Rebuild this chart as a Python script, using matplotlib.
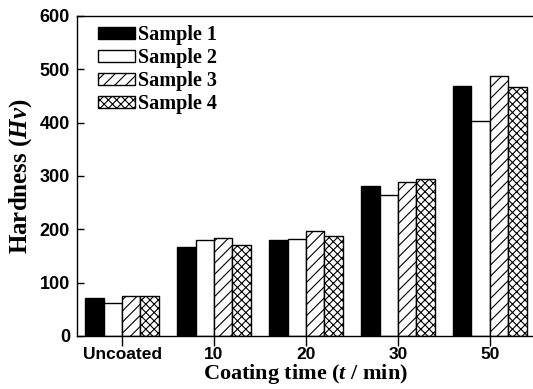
import matplotlib
matplotlib.use("Agg")
import matplotlib.pyplot as plt
import numpy as np

categories = ["Uncoated", "10", "20", "30", "50"]
series_names = ["Sample 1", "Sample 2", "Sample 3", "Sample 4"]
sample1 = [72, 166, 180, 282, 469]
sample2 = [62, 180, 182, 265, 404]
sample3 = [75, 183, 197, 289, 487]
sample4 = [75, 170, 187, 295, 466]
y_ticks = [0, 100, 200, 300, 400, 500, 600]

plt.rcParams['mathtext.fontset'] = 'custom'
plt.rcParams['mathtext.rm'] = 'Liberation Serif:bold'
plt.rcParams['mathtext.it'] = 'Liberation Serif:italic:bold'
plt.rcParams['mathtext.bf'] = 'Liberation Serif:bold'
plt.rcParams['hatch.linewidth'] = 0.8

fig = plt.figure(figsize=(5.33, 3.89), dpi=100)
ax = fig.add_axes([77/533, 1-336/389, (534-77)/533, (336-16)/389])

x = np.arange(len(categories))
w = 0.2
styles = [dict(facecolor='black', hatch=None),
          dict(facecolor='white', hatch=None),
          dict(facecolor='white', hatch='///'),
          dict(facecolor='white', hatch='xxxx')]
data = [sample1, sample2, sample3, sample4]
for i, (vals, st, name) in enumerate(zip(data, styles, series_names)):
    ax.bar(x + (i - 1.5) * w, vals, width=w, facecolor=st['facecolor'],
           hatch=st['hatch'], edgecolor='black', linewidth=1.0, label=name)

ax.set_xlim(-0.49, 4.48)
ax.set_ylim(0, 600)
ax.set_xticks(x)
ax.set_xticklabels(categories)
ax.set_yticks(y_ticks)
ax.tick_params(axis='x', direction='out', length=7, width=1, labelsize=12.5, pad=1)
ax.tick_params(axis='y', direction='in', length=5, width=1, labelsize=13, pad=5)
for lab in ax.get_xticklabels() + ax.get_yticklabels():
    lab.set_fontweight('bold')
    lab.set_family('Liberation Sans')
for s in ax.spines.values():
    s.set_linewidth(1.0)
ax.spines['right'].set_visible(False)

ax.set_xlabel("Coating time ($t$ / min)", fontsize=16, fontweight='bold',
              family='Liberation Serif', labelpad=0)
ax.set_ylabel("Hardness ($Hv$)", fontsize=18, fontweight='bold',
              family='Liberation Serif', labelpad=4)

leg = ax.legend(loc='upper left', bbox_to_anchor=(0.045, 0.972), frameon=False,
                prop={'family': 'Liberation Serif', 'weight': 'bold', 'size': 14.5},
                handlelength=1.85, handleheight=0.55, handletextpad=0.15,
                labelspacing=0.15, borderpad=0, borderaxespad=0)

fig.savefig("out.png", dpi=100)
